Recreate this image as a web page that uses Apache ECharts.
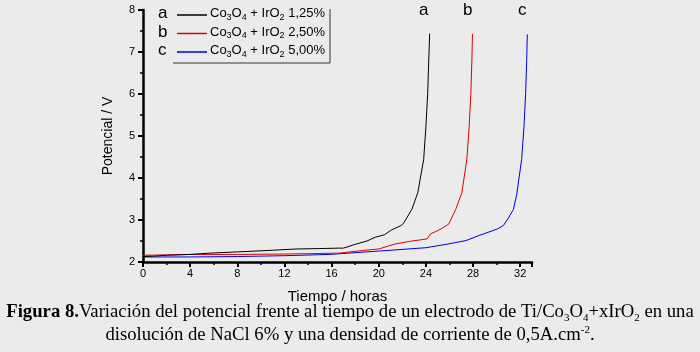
<!DOCTYPE html>
<html>
<head>
<meta charset="utf-8">
<script src="https://cdn.jsdelivr.net/npm/echarts@6/dist/echarts.min.js"></script>
<style>
  html, body { margin: 0; padding: 0; background: #ebebeb; }
  #chart { width: 700px; height: 352px; }
</style>
</head>
<body>
<div id="chart"></div>
<script>
// tiempo (horas) / potencial (V)
const timeA = [0, 1, 2, 4, 5.6, 8, 11, 13, 15, 16.6, 17, 18, 19, 19.7, 20.5, 21, 21.9, 22.1, 22.82, 23.31, 23.81, 24.0, 24.15, 24.24, 24.32]
const potA = [2.13, 2.14, 2.16, 2.18, 2.21, 2.24, 2.28, 2.31, 2.32, 2.33, 2.33, 2.42, 2.5, 2.59, 2.65, 2.75, 2.87, 2.92, 3.26, 3.65, 4.44, 5.22, 6.01, 6.8, 7.44]

const timeB = [0, 2, 4, 8, 12, 16.6, 18.5, 20, 21.4, 22.6, 24.1, 24.4, 25.1, 25.93, 26.54, 27.05, 27.47, 27.67, 27.81, 27.9, 27.95]
const potB = [2.16, 2.17, 2.18, 2.18, 2.19, 2.21, 2.27, 2.31, 2.43, 2.49, 2.55, 2.67, 2.76, 2.9, 3.26, 3.65, 4.44, 5.22, 6.01, 6.8, 7.43]

const timeC = [0, 4, 8, 12, 15.8, 20, 24, 25.7, 27.4, 28.5, 30.1, 30.58, 31.0, 31.42, 31.7, 32.12, 32.32, 32.46, 32.55, 32.6]
const potC = [2.12, 2.12, 2.13, 2.15, 2.18, 2.26, 2.34, 2.42, 2.51, 2.63, 2.79, 2.87, 3.05, 3.25, 3.6, 4.44, 5.22, 6.01, 6.8, 7.42]

const letters = ['a', 'b', 'c']
const legendPct = ['1,25%', '2,50%', '5,00%']
const colors = ['#000000', '#e00000', '#0000e0']

const pairs = (xs, ys) => xs.map((x, i) => [x, ys[i]])

let myChart = echarts.init(document.getElementById('chart'))

const sub = { fontSize: 9, padding: [8, 0, 0, 0], color: '#000' }
const legendItems = []
letters.forEach((l, i) => {
  const y = 15 + i * 18.5
  legendItems.push({
    type: 'text', left: 158, top: y - 10,
    style: { text: l, font: '17px "Liberation Sans"', fill: '#000' }
  })
  legendItems.push({
    type: 'line',
    shape: { x1: 177, y1: y, x2: 207, y2: y },
    style: { stroke: colors[i], lineWidth: 1.5 }
  })
  legendItems.push({
    type: 'text', left: 210, top: y - 8,
    style: {
      text: 'Co{s|3}O{s|4} + IrO{s|2} ' + legendPct[i],
      font: '13px "Liberation Sans"', fill: '#000',
      rich: { s: sub }
    }
  })
})

const curveLabels = [[424, 'a'], [468, 'b'], [523, 'c']].map(([x, t]) => ({
  type: 'text', left: x - 5, top: 2,
  style: { text: t, font: '17px "Liberation Sans"', fill: '#000' }
}))

myChart.setOption({
  backgroundColor: '#ebebeb',
  animation: false,
  grid: { left: 143, right: 168, top: 10, bottom: 90 },
  xAxis: {
    type: 'value', min: 0, max: 33, interval: 4,
    name: 'Tiempo / horas', nameLocation: 'middle', nameGap: 27,
    nameTextStyle: { fontSize: 15, color: '#000', fontFamily: 'Liberation Sans' },
    axisLine: { lineStyle: { color: '#000', width: 2.5 } },
    axisTick: { inside: false, length: 5, lineStyle: { color: '#000', width: 2 } },
    minorTick: { show: true, splitNumber: 2, length: 3, lineStyle: { color: '#000', width: 1.5 } },
    axisLabel: { color: '#000', fontSize: 11, margin: 6, showMaxLabel: false, fontFamily: 'Liberation Sans' },
    splitLine: { show: false }
  },
  yAxis: {
    type: 'value', min: 2, max: 8, interval: 1,
    name: 'Potencial / V', nameLocation: 'middle', nameGap: 28,
    nameTextStyle: { fontSize: 14, color: '#000', fontFamily: 'Liberation Sans' },
    axisLine: { show: true, lineStyle: { color: '#000', width: 2.5 } },
    axisTick: { show: true, inside: false, length: 5, lineStyle: { color: '#000', width: 2 } },
    minorTick: { show: true, splitNumber: 2, length: 3, lineStyle: { color: '#000', width: 1.5 } },
    axisLabel: { color: '#000', fontSize: 11, margin: 8, fontFamily: 'Liberation Sans' },
    splitLine: { show: false }
  },
  series: [
    { name: 'a', type: 'line', data: pairs(timeA, potA) },
    { name: 'b', type: 'line', data: pairs(timeB, potB) },
    { name: 'c', type: 'line', data: pairs(timeC, potC) }
  ].map((s, i) => Object.assign(s, {
    showSymbol: false, smooth: false,
    lineStyle: { color: colors[i], width: 1 }, z: 3 - i
  })),
  graphic: [
    // legend frame
    { type: 'polyline', shape: { points: [[173, 63], [330, 63], [330, 9]] }, style: { stroke: '#333', fill: null, lineWidth: 1 } },
    ...legendItems,
    ...curveLabels,
    {
      type: 'text', left: 'center', top: 303,
      style: {
        text: '{b|Figura 8.}Variación del potencial frente al tiempo de un electrodo de Ti/Co{s|3}O{s|4}+xIrO{s|2} en una',
        font: '18.7px "Liberation Serif"', fill: '#000',
        rich: { b: { fontWeight: 'bold', fontSize: 18.7, fontFamily: 'Liberation Serif' }, s: { fontSize: 11, padding: [12, 0, 0, 0], fontFamily: 'Liberation Serif' } }
      }
    },
    {
      type: 'text', left: 'center', top: 325,
      style: {
        text: 'disolución de NaCl 6% y una densidad de corriente de 0,5A.cm{p|-2}.',
        font: '18.7px "Liberation Serif"', fill: '#000',
        rich: { p: { fontSize: 11, padding: [0, 0, 10, 0], fontFamily: 'Liberation Serif' } }
      }
    }
  ]
})
</script>
</body>
</html>
